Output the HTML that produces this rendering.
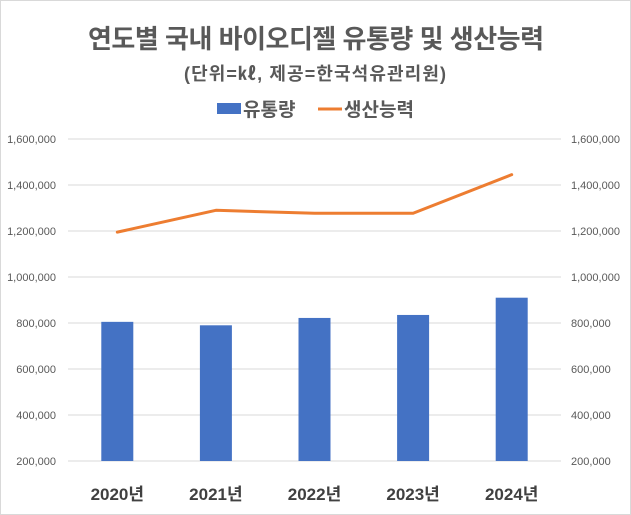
<!DOCTYPE html>
<html><head><meta charset="utf-8"><style>
body{margin:0;background:#fff}
svg{display:block;font-family:"Liberation Sans","Noto Sans CJK KR",sans-serif}
</style></head><body>
<svg id="c" width="631" height="515">
<rect x="0.5" y="0.5" width="630" height="514" fill="#fff" stroke="#d9d9d9"/>
<text x="316" y="48" text-anchor="middle" font-size="26" font-weight="bold" fill="#595959" textLength="456">연도별 국내 바이오디젤 유통량 및 생산능력</text>
<text x="315" y="80" text-anchor="middle" font-size="18" font-weight="bold" fill="#595959" textLength="262">(단위=㎘, 제공=한국석유관리원)</text>
<g>
<rect x="217" y="103" width="24" height="11" fill="#4472c4"/>
<text x="243" y="116" font-size="19" font-weight="bold" fill="#595959">유통량</text>
<line x1="318" y1="109" x2="342" y2="109" stroke="#ed7d31" stroke-width="3"/>
<text x="344" y="116" font-size="19" font-weight="bold" fill="#595959">생산능력</text>
</g>
<g id="grid"></g><g id="bars"></g><g id="line"></g><g id="axes"></g>
</svg>
<script>
const categories=["2020년","2021년","2022년","2023년","2024년"];
const distribution=[805000,790000,822000,835000,910000];
const capacity=[1195000,1290000,1277000,1277000,1445000];
const ticks=[200000,400000,600000,800000,1000000,1200000,1400000,1600000];
const NS="http://www.w3.org/2000/svg";
const x0=68,x1=561,yMin=200000,yMax=1600000,yTop=139,yBot=461;
function y(v){return yBot-(v-yMin)/(yMax-yMin)*(yBot-yTop);}
function xc(i){return x0+(x1-x0)*(i+0.5)/categories.length;}
function mk(t,a,p){const e=document.createElementNS(NS,t);for(const k in a)e.setAttribute(k,a[k]);p.appendChild(e);return e;}
const g=document.getElementById('grid'),b=document.getElementById('bars'),l=document.getElementById('line'),ax=document.getElementById('axes');
ticks.forEach(t=>{
 const ln=mk('line',{x1:x0,x2:x1,y1:y(t),y2:y(t),stroke:'#d9d9d9','stroke-width':1},g);
 
 
 const s=t.toLocaleString('en-US');
 const a=mk('text',{x:56,y:y(t)+4,'text-anchor':'end','font-size':11,fill:'#595959'},ax);a.textContent=s;
 
 
 const c=mk('text',{x:571,y:y(t)+4,'font-size':11,fill:'#595959'},ax);c.textContent=s;
 
 
});
categories.forEach((cat,i)=>{
 const r=mk('rect',{x:xc(i)-16,y:y(distribution[i]),width:32,height:yBot-y(distribution[i]),fill:'#4472c4'},b);
 
 
 const t=mk('text',{x:xc(i),y:500,'text-anchor':'middle','font-size':17,'font-weight':'bold',fill:'#404040'},ax);t.textContent=cat;
 
 
});
const pl=mk('polyline',{points:capacity.map((v,i)=>xc(i)+','+y(v)).join(' '),fill:'none',stroke:'#ed7d31','stroke-width':3,'stroke-linejoin':'round','stroke-linecap':'round'},l);


</script>
</body></html>
